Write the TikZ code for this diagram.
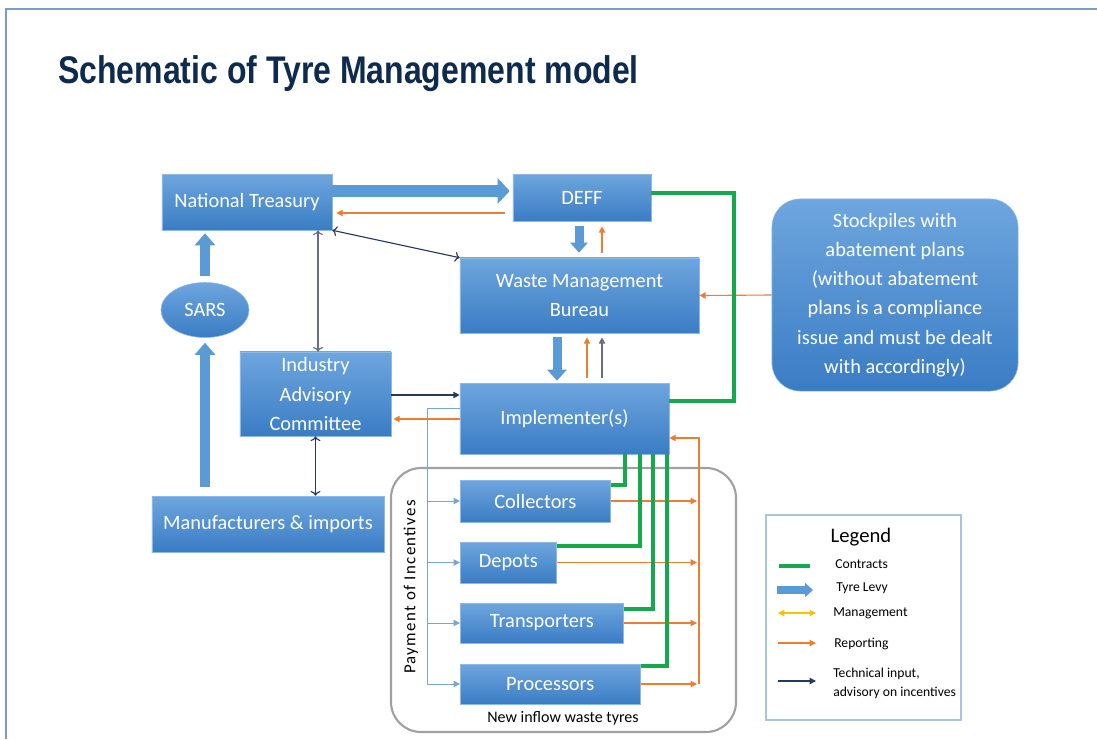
\documentclass[tikz,border=0pt]{standalone}
\usepackage{fontspec}
\setmainfont{Carlito}
\newfontfamily\titleFont{Liberation Sans}[FakeStretch=0.83]
\newfontfamily\payFont{Carlito}[LetterSpace=8]
\usetikzlibrary{shapes.geometric, arrows.meta, positioning, calc}

\definecolor{boxTop}{RGB}{110,166,222}
\definecolor{boxBottom}{RGB}{58,124,196}
\definecolor{boxEdge}{RGB}{140,185,230}
\definecolor{levyBlue}{RGB}{91,155,213}
\definecolor{reportOrange}{RGB}{237,125,49}
\definecolor{techNavy}{RGB}{38,56,92}
\definecolor{advGray}{RGB}{105,110,125}
\definecolor{payBlue}{RGB}{120,165,210}
\definecolor{contractGreen}{RGB}{20,170,75}
\definecolor{mgmtGold}{RGB}{255,192,0}
\definecolor{titleNavy}{RGB}{14,42,76}
\definecolor{slideEdge}{RGB}{125,155,200}
\definecolor{legendEdge}{RGB}{170,195,225}
\definecolor{groupGray}{RGB}{160,160,160}

\begin{document}
\begin{tikzpicture}[
    x=0.025cm, y=-0.025cm,
    blueBox/.style={rectangle, top color=boxTop, bottom color=boxBottom, draw=boxEdge, line width=0.4pt,
        text=white, align=center, inner sep=0pt, font=\fontsize{14.5}{20.8}\selectfont},
    levyArrow/.style={draw=levyBlue, line width=0.25cm, -{Triangle[length=0.3cm, width=0.5cm]}},
    reportArrow/.style={draw=reportOrange, line width=0.8pt, -{Triangle[length=4.5pt, width=4.5pt]}},
    techArrow/.style={draw=techNavy, line width=0.8pt, -{Triangle[length=4.5pt, width=4.5pt]}},
    payArrow/.style={draw=payBlue, line width=0.7pt, -{Triangle[length=4.5pt, width=4.5pt]}},
    contractLine/.style={draw=contractGreen, line width=2.4pt},
    smallText/.style={font=\fontsize{9.7}{13.5}\selectfont, align=left, inner sep=0pt}
]
    \useasboundingbox (0,0) rectangle (1097,739);

    % --- SLIDE FRAME AND TITLE ---
    \draw[slideEdge, line width=1.1pt] (6,739) -- (6,9) -- (1097,9);
    \node[anchor=base west, inner sep=0pt, text=titleNavy, font=\titleFont\bfseries\fontsize{27.4}{30}\selectfont]
        (title) at (58,83) {Schematic of Tyre Management model};

    % --- MAIN BOXES ---
    \node[blueBox, minimum width=4.25cm, minimum height=1.4cm] (nt) at (247,202) {National Treasury};
    \node[blueBox, minimum width=3.45cm, minimum height=1.175cm] (dt) at (582,197.5) {DEFF};
    \node[blueBox, minimum width=5.975cm, minimum height=1.875cm] (wmb) at (579.5,295.5) {Waste Management\\Bureau};
    \node[blueBox, rounded corners=0.7cm, minimum width=6.15cm, minimum height=4.8cm] (stock) at (895,295)
        {Stockpiles with\\abatement plans\\(without abatement\\plans is a compliance\\issue and must be dealt\\with accordingly)};
    \node[blueBox, ellipse, minimum width=2.2cm, minimum height=1.375cm] (sars) at (205,310) {SARS};
    \node[blueBox, minimum width=3.775cm, minimum height=2.1cm] (iac) at (315.5,394) {Industry\\Advisory\\Committee};
    \node[blueBox, minimum width=5.8cm, minimum height=1.4cm] (manu) at (268,524) {Manufacturers \& imports};
    \node[blueBox, minimum width=5.225cm, minimum height=1.775cm] (impl) at (564.5,418.5) {Implementer(s)};

    % --- NEW INFLOW GROUP ---
    \draw[groupGray, line width=1.5pt, rounded corners=0.75cm] (391,468) rectangle (736,732);
    \node[blueBox, anchor=west, minimum width=3.75cm, minimum height=1.05cm] (coll) at (460,501) {Collectors};
    \node[blueBox, anchor=west, minimum width=2.4cm, minimum height=1.025cm] (dep) at (460,562.5) {Depots};
    \node[blueBox, anchor=west, minimum width=4.075cm, minimum height=1cm] (trans) at (460,623) {Transporters};
    \node[blueBox, anchor=west, minimum width=4.5cm, minimum height=1cm] (proc) at (460,684) {Processors};
    \node[font=\fontsize{11.4}{13}\selectfont, inner sep=0pt] (inflow) at (563,718) {New inflow waste tyres};
    \node[rotate=90, inner sep=0pt, font=\payFont\fontsize{12}{14}\selectfont] (payLabel) at (411,587) {Payment of Incentives};

    % --- TYRE LEVY ---
    \draw[levyArrow, line width=0.3cm, -{Triangle[length=0.3cm, width=0.625cm]}, shorten >=0.075cm]
        (nt.east |- 0,191) -- (dt.west |- 0,191);
    \draw[levyArrow, line width=0.225cm, -{Triangle[length=0.25cm, width=0.425cm]}, shorten <=0.125cm, shorten >=0.125cm]
        (579,0 |- dt.south) -- (579,0 |- wmb.north);
    \draw[levyArrow, line width=0.225cm, -{Triangle[length=0.275cm, width=0.475cm]}, shorten <=0.1cm, shorten >=0.05cm]
        (557,0 |- wmb.south) -- (557,0 |- impl.north);
    \draw[levyArrow, shorten <=0.15cm, shorten >=0.075cm] (sars.north) -- (sars.north |- nt.south);
    \draw[levyArrow, shorten <=0.225cm, shorten >=0.125cm] (sars.south |- manu.north) -- (sars.south);

    % --- REPORTING ---
    \draw[reportArrow, shorten <=0.2cm, shorten >=0.1cm] (dt.west |- 0,213) -- (nt.east |- 0,213);
    \draw[reportArrow, shorten <=0.125cm, shorten >=0.125cm] (602,0 |- wmb.north) -- (602,0 |- dt.south);
    \draw[reportArrow] (stock.west) -- (wmb.east);
    \draw[reportArrow, shorten <=0.125cm, shorten >=0.1cm] (587,0 |- impl.north) -- (587,0 |- wmb.south);
    \draw[reportArrow, shorten >=0.05cm] (impl.west |- 0,419) -- (iac.east |- 0,419);
    \foreach \sub in {coll, dep, trans, proc}
        \draw[reportArrow] (\sub.east) -- (697,0 |- \sub.east);
    \draw[reportArrow] (699,0 |- proc.east) -- (699,438) -- (impl.east |- 0,438);

    % --- TECHNICAL INPUT ---
    \draw[techArrow, <->] (nt.south east) -- (wmb.north west);
    \draw[techArrow, draw=advGray, <->] (318,0 |- iac.north) -- (318,0 |- nt.south);
    \draw[techArrow, draw=advGray, shorten <=0.125cm, shorten >=0.1cm] (602,0 |- impl.north) -- (602,0 |- wmb.south);
    \draw[techArrow, <->] (iac.south) -- (iac.south |- manu.north);
    \draw[techArrow] (iac.east |- 0,395) -- (impl.west |- 0,395);

    % --- PAYMENT OF INCENTIVES ---
    \draw[payArrow] (impl.west |- 0,408) -- (427,408) -- (427,0 |- proc.west) -- (proc.west);
    \foreach \sub in {coll, dep, trans}
        \draw[payArrow] (427,0 |- \sub.west) -- (\sub.west);

    % --- CONTRACTS ---
    \draw[contractLine] (dt.east |- 0,193) -- (734,193) -- (734,401) -- (impl.east |- 0,401);
    \draw[contractLine] (625,0 |- impl.south) |- (coll.east |- 0,485);
    \draw[contractLine] (640,0 |- impl.south) |- (dep.east |- 0,546);
    \draw[contractLine] (653,0 |- impl.south) |- (trans.east |- 0,609);
    \draw[contractLine] (667,0 |- impl.south) |- (proc.east |- 0,666);

    % --- LEGEND ---
    \draw[legendEdge, line width=1.1pt] (766,515) rectangle (961,720);
    \node[font=\fontsize{14.7}{16}\selectfont, inner sep=0pt] (legTitle) at (861,537) {Legend};
    \draw[contractLine] (779,566) -- (810,566);
    \draw[levyArrow, line width=0.2cm, -{Triangle[length=0.2cm, width=0.35cm]}] (777,590) -- (813,590);
    \draw[draw=mgmtGold, line width=0.8pt, {Triangle[length=4.5pt, width=4.5pt]}-{Triangle[length=4.5pt, width=4.5pt]}] (778,613) -- (816,613);
    \draw[reportArrow] (778,643) -- (816,643);
    \draw[techArrow] (778,681) -- (816,681);
    \node[smallText, anchor=west] (legContract) at (835,564) {Contracts};
    \node[smallText, anchor=west] (legLevy) at (836,588) {Tyre Levy};
    \node[smallText, anchor=west] (legMgmt) at (833,613) {Management};
    \node[smallText, anchor=west] (legReport) at (834,644) {Reporting};
    \node[smallText, anchor=west] (legTech) at (833,683.5) {Technical input,\\advisory on incentives};

\end{tikzpicture}
\end{document}
